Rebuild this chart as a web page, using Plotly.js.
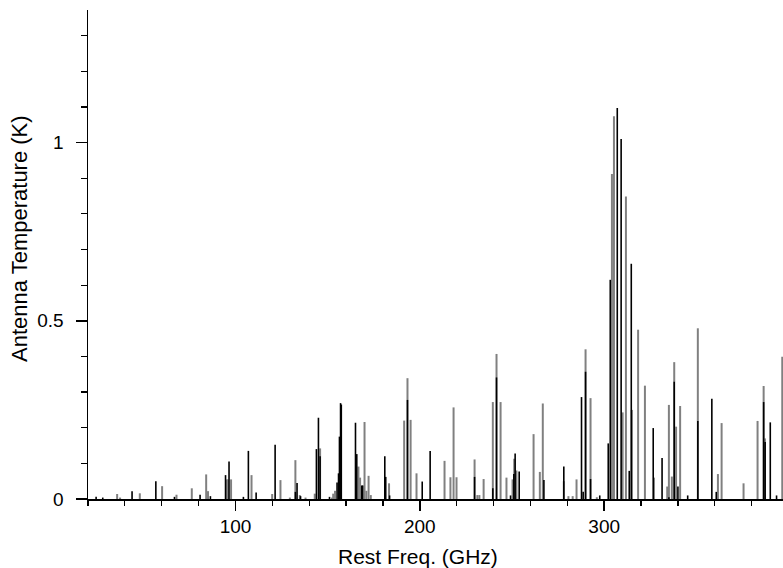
<!DOCTYPE html>
<html><head><meta charset="utf-8">
<script src="https://cdn.plot.ly/plotly-3.0.1.min.js"></script>
<style>html,body{margin:0;padding:0;background:#fff}</style>
</head><body><div id="chart" style="width:783px;height:568px"></div>
<script>
// Rest frequencies (GHz) and antenna temperatures (K)
const grayFreq = [35.8,37.4,48.1,60.2,68.0,76.3,84.1,85.1,95.2,96.0,97.6,108.7,119.9,124.4,129.5,132.5,134.9,138.0,143.0,145.9,152.3,153.0,154.0,166.7,167.6,170.0,171.0,172.2,173.4,183.3,191.5,193.3,195.0,198.2,213.4,216.6,218.3,219.9,229.7,231.2,232.3,234.6,239.6,241.6,243.8,247.0,250.3,251.2,252.4,261.7,265.1,266.7,278.1,280.6,282.9,285.0,289.9,292.6,296.0,304.2,305.3,310.0,311.8,318.4,322.1,327.0,334.2,335.1,336.7,338.0,339.0,341.2,350.8,361.7,363.7,375.6,383.2,386.5,387.2,396.6];
const grayTemp = [0.014,0.004,0.016,0.036,0.012,0.030,0.069,0.022,0.055,0.055,0.055,0.067,0.014,0.053,0.004,0.109,0.011,0.004,0.015,0.142,0.004,0.015,0.023,0.091,0.060,0.216,0.023,0.065,0.011,0.044,0.220,0.339,0.222,0.072,0.107,0.061,0.257,0.061,0.111,0.011,0.011,0.056,0.272,0.407,0.272,0.060,0.055,0.113,0.080,0.182,0.076,0.268,0.050,0.008,0.008,0.055,0.420,0.283,0.005,0.912,1.074,0.243,0.849,0.475,0.318,0.060,0.035,0.264,0.063,0.384,0.203,0.261,0.479,0.070,0.213,0.044,0.219,0.317,0.170,0.399];
const blackFreq = [24.4,28.0,43.9,56.8,66.9,80.8,86.4,94.6,96.5,104.3,107.0,111.2,121.5,132.5,133.4,135.3,143.9,145.0,145.9,151.0,155.1,155.9,156.4,157.0,157.4,165.1,165.8,168.5,169.0,181.0,181.5,183.6,193.3,201.3,205.6,229.7,239.6,241.6,249.2,251.0,251.7,253.9,267.3,278.1,288.6,287.7,289.9,292.6,297.6,302.2,303.3,307.1,309.2,313.6,314.7,314.9,326.6,331.4,335.1,338.0,340.0,345.3,350.8,358.4,360.8,386.5,387.3,390.1,393.5];
const blackTemp = [0.006,0.004,0.022,0.050,0.006,0.012,0.008,0.067,0.105,0.006,0.135,0.018,0.152,0.020,0.045,0.008,0.140,0.228,0.120,0.006,0.046,0.072,0.175,0.269,0.265,0.214,0.126,0.038,0.038,0.120,0.062,0.010,0.278,0.049,0.135,0.062,0.030,0.341,0.010,0.070,0.128,0.077,0.053,0.091,0.020,0.286,0.357,0.056,0.010,0.156,0.615,1.097,1.010,0.079,0.660,0.250,0.199,0.115,0.005,0.329,0.035,0.010,0.219,0.281,0.020,0.272,0.160,0.215,0.010];

function sticks(f, t) {
  const x = [], y = [];
  for (let i = 0; i < f.length; i++) { x.push(f[i], f[i], null); y.push(0, t[i], null); }
  return {x, y};
}
const g = sticks(grayFreq, grayTemp);
const b = sticks(blackFreq, blackTemp);

const fam = 'Liberation Sans, Arial, Helvetica, sans-serif';
const font = {family: fam, size: 19, color: '#000'};
const data = [
  {x: g.x, y: g.y, type: 'scatter', mode: 'lines', line: {color: 'rgb(128,128,128)', width: 2}, hoverinfo: 'skip', connectgaps: false},
  {x: b.x, y: b.y, type: 'scatter', mode: 'lines', line: {color: '#000', width: 1.6}, hoverinfo: 'skip', connectgaps: false}
];
const layout = {
  width: 783, height: 568,
  margin: {l: 88, r: 0, t: 10, b: 69},
  paper_bgcolor: '#fff', plot_bgcolor: '#fff',
  showlegend: false,
  font: font,
  xaxis: {range: [20, 397], tick0: 0, dtick: 100, ticks: 'outside', ticklen: 10, tickwidth: 1.5, tickcolor: '#000',
          showline: true, linecolor: '#000', linewidth: 1.5, showgrid: false, zeroline: false, tickfont: font,
          minor: {ticks: 'outside', ticklen: 5, tickwidth: 1.2, tickcolor: '#000', dtick: 20, tick0: 0, showgrid: false}},
  yaxis: {range: [0, 1.372], tick0: 0, dtick: 0.5, ticks: 'outside', ticklen: 11, tickwidth: 1.5, tickcolor: '#000',
          ticklabelstandoff: 8,
          showline: true, linecolor: '#000', linewidth: 1.5, showgrid: false, zeroline: false, tickfont: font,
          minor: {ticks: 'outside', ticklen: 6, tickwidth: 1.2, tickcolor: '#000', dtick: 0.1, tick0: 0, showgrid: false}},
  annotations: [
    {text: 'Rest Freq. (GHz)', xref: 'paper', yref: 'paper', x: (418-88)/695, y: (499-556)/489, xanchor: 'center', yanchor: 'middle', showarrow: false, font: {family: fam, size: 21, color: '#000'}},
    {text: 'Antenna Temperature (K)', textangle: -90, xref: 'paper', yref: 'paper', x: (19-88)/695, y: (499-239)/489, xanchor: 'center', yanchor: 'middle', showarrow: false, font: {family: fam, size: 22, color: '#000'}}
  ]
};
Plotly.newPlot('chart', data, layout, {displayModeBar: false, staticPlot: true});
</script></body></html>
